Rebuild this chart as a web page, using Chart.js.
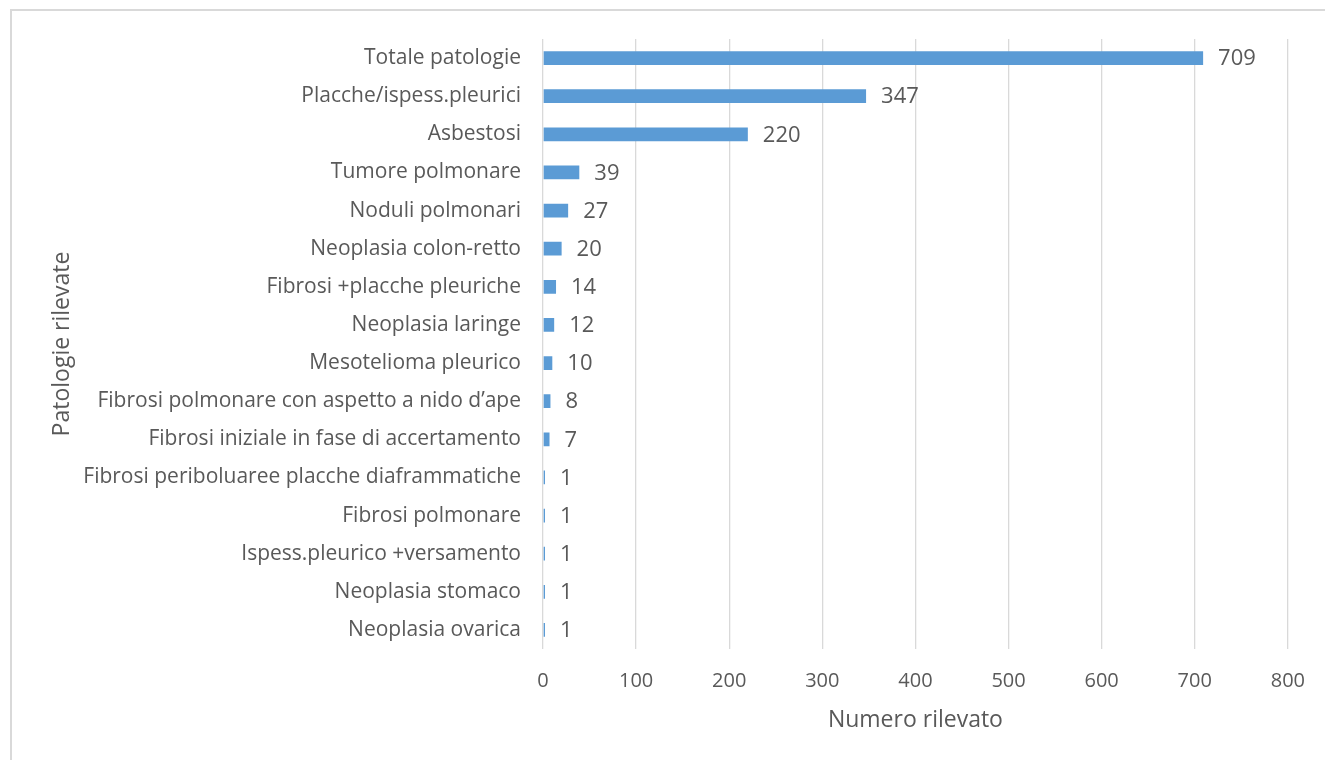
<!DOCTYPE html>
<html lang="it">
  <head>
    <meta charset="utf-8" />
    <title>Patologie rilevate</title>
    <style>
      html, body { margin: 0; padding: 0; background: #fff; overflow: hidden; }
      #wrap { position: relative; width: 1325px; height: 760px; }
      #frame {
        position: absolute; left: 10px; top: 9px; width: 1330px; height: 770px;
        border: 2px solid #d9d9d9; box-sizing: border-box;
      }
      canvas { position: absolute; left: 0; top: 0; }
    </style>
  </head>
  <body>
    <div id="wrap">
      <div id="frame"></div>
      <canvas id="chart" width="1325" height="760"></canvas>
    </div>
    <script src="https://cdn.jsdelivr.net/npm/chart.js@4.4.1/dist/chart.umd.min.js"></script>
    <script>
      const categories = [
        'Totale patologie',
        'Placche/ispess.pleurici',
        'Asbestosi',
        'Tumore polmonare',
        'Noduli polmonari',
        'Neoplasia colon-retto',
        'Fibrosi +placche pleuriche',
        'Neoplasia laringe',
        'Mesotelioma pleurico',
        'Fibrosi polmonare con aspetto a nido d\u2019ape',
        'Fibrosi iniziale in fase di accertamento',
        'Fibrosi periboluaree placche diaframmatiche',
        'Fibrosi polmonare',
        'Ispess.pleurico +versamento',
        'Neoplasia stomaco',
        'Neoplasia ovarica',
      ];
      const values = [709, 347, 220, 39, 27, 20, 14, 12, 10, 8, 7, 1, 1, 1, 1, 1];
      const xMax = 800;
      const xStep = 100;

      const textColor = '#595959';
      const font = 'Open Sans';

      // value labels to the right of each bar
      const valueLabels = {
        id: 'valueLabels',
        afterDatasetsDraw(chart) {
          const ctx = chart.ctx;
          const meta = chart.getDatasetMeta(0);
          ctx.save();
          ctx.font = `22px "${font}"`;
          ctx.fillStyle = textColor;
          ctx.textAlign = 'left';
          ctx.textBaseline = 'middle';
          meta.data.forEach((bar, i) => {
            ctx.fillText(String(values[i]), bar.x + 15, bar.y + 1);
          });
          ctx.restore();
        },
      };

      new Chart(document.getElementById('chart'), {
        type: 'bar',
        data: {
          labels: categories,
          datasets: [
            {
              data: values,
              backgroundColor: '#5b9bd5',
              borderWidth: 0,
              minBarLength: 2,
              categoryPercentage: 1,
              barPercentage: 0.36,
            },
          ],
        },
        options: {
          indexAxis: 'y',
          responsive: false,
          animation: false,
          events: [],
          layout: { padding: { left: 0, right: 36, top: 39, bottom: 0 } },
          plugins: { legend: { display: false }, tooltip: { enabled: false } },
          scales: {
            x: {
              min: 0,
              max: xMax,
              ticks: {
                stepSize: xStep,
                color: textColor,
                padding: 20,
                font: { family: font, size: 20 },
              },
              grid: { color: '#d9d9d9', lineWidth: 1.3, drawTicks: false },
              border: { display: false },
              title: {
                display: true,
                text: 'Numero rilevato',
                color: textColor,
                font: { family: font, size: 23 },
                padding: { top: 0, bottom: 26 },
              },
              afterFit(scale) {
                scale.height = 111;
              },
            },
            y: {
              ticks: {
                color: textColor,
                padding: 22,
                font: { family: font, size: 21 },
              },
              grid: { display: false, drawTicks: false },
              border: { display: false },
              title: {
                display: true,
                text: 'Patologie rilevate',
                color: textColor,
                font: { family: font, size: 23 },
                padding: { top: 49, bottom: 0 },
              },
              afterFit(scale) {
                scale.width = 543;
              },
            },
          },
        },
        plugins: [valueLabels],
      });
    </script>
  </body>
</html>
